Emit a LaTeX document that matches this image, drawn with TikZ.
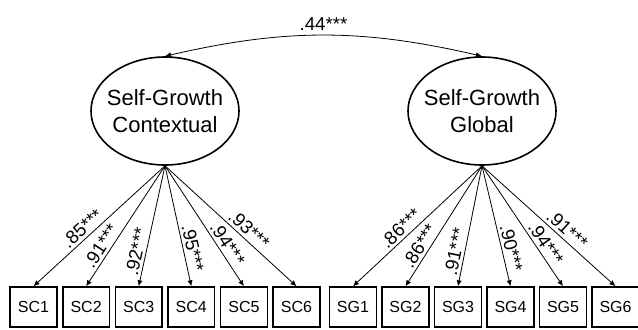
\documentclass[tikz,border=0pt]{standalone}
\usepackage{fontspec}
\setmainfont{Liberation Sans}
\usetikzlibrary{shapes.geometric,arrows.meta}

\begin{document}
\begin{tikzpicture}[x=0.75pt,y=-0.75pt,
	factor/.style={ellipse,draw=black,line width=1.2pt,minimum width=111pt,minimum height=81pt,inner sep=0pt},
	factortext/.style={align=center,font=\fontsize{16.5}{20}\selectfont},
	item/.style={rectangle,draw=black,line width=1.1pt,minimum width=35pt,minimum height=30pt,inner sep=0pt,font=\fontsize{12}{14}\selectfont},
	load/.style={-{Latex[length=4.5pt,width=4pt]},line width=0.6pt},
	coef/.style={sloped,above,inner sep=2pt,font=\fontsize{14}{16}\selectfont}]
	
	\useasboundingbox (0,0) rectangle (638,329);
	
	\node[factor,label={[factortext]center:Self-Growth\\Contextual}] (ctx) at (165,111) {};
	\node[factor,label={[factortext]center:Self-Growth\\Global}] (glob) at (482,111) {};
	
	\draw[{Latex[length=4.5pt,width=4pt]}-{Latex[length=4.5pt,width=4pt]},line width=0.6pt] (ctx.north) to[bend left=13] node[above,inner sep=3pt,font=\fontsize{14}{16}\selectfont] {.44***} (glob.north);
	
	\foreach \i/\w/\p in {1/.85/.58,2/.91/.71,3/.92/.73,4/.95/.70,5/.94/.69,6/.93/.59}
	{
		\node[item] (sc\i) at ({33.5+52.6*(\i-1)},307) {SC\i};
		\draw[load] (ctx.south) -- node[coef,pos=\p] {\w***} (sc\i.north);
	}
	
	\foreach \i/\w/\p in {1/.86/.58,2/.86/.71,3/.91/.73,4/.90/.70,5/.94/.69,6/.91/.59}
	{
		\node[item] (sg\i) at ({353+52.5*(\i-1)},307) {SG\i};
		\draw[load] (glob.south) -- node[coef,pos=\p] {\w***} (sg\i.north);
	}
	
\end{tikzpicture}
\end{document}
